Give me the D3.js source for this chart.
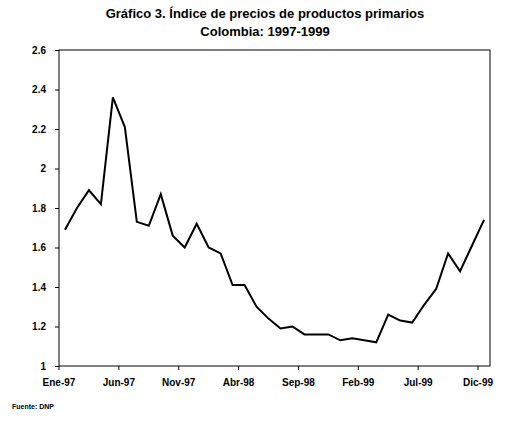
<!DOCTYPE html><html><head><meta charset="utf-8"><script src="https://cdn.jsdelivr.net/npm/d3@7"></script>
<style>body{margin:0;background:#fff}text{font-family:"Liberation Sans",Arial,sans-serif}</style></head><body><svg id="c" width="525" height="431"></svg><script>
const months=["Ene","Feb","Mar","Abr","May","Jun","Jul","Ago","Sep","Oct","Nov","Dic"];
const years=["97","98","99"];
const categories=years.flatMap(y=>months.map(m=>m+"-"+y));
const values=[1.69,1.80,1.89,1.82,2.36,2.21,1.73,1.71,1.87,1.66,1.60,1.72,1.60,1.57,1.41,1.41,1.30,1.24,1.19,1.20,1.16,1.16,1.16,1.13,1.14,1.13,1.12,1.26,1.23,1.22,1.31,1.39,1.57,1.48,1.61,1.74];
const yTicks=[1,1.2,1.4,1.6,1.8,2,2.2,2.4,2.6];
const tickCats=["Ene-97","Jun-97","Nov-97","Abr-98","Sep-98","Feb-99","Jul-99","Dic-99"];
const svg=d3.select("#c");
const L=59,R=490,T=50,B=366;
const x=d3.scaleBand().domain(categories).range([L,R]);
const y=d3.scaleLinear().domain([1,2.6]).range([B,T]);
svg.append("text").attr("x",265).attr("y",18).attr("text-anchor","middle").attr("font-size",13).attr("font-weight","bold").text("Gráfico 3. Índice de precios de productos primarios");
svg.append("text").attr("x",265).attr("y",36).attr("text-anchor","middle").attr("font-size",13).attr("font-weight","bold").text("Colombia: 1997-1999");
svg.append("rect").attr("x",L).attr("y",T).attr("width",R-L).attr("height",B-T).attr("fill","none").attr("stroke","#000").attr("stroke-width",1);
const ya=svg.append("g").attr("transform",`translate(${L},0)`).call(d3.axisLeft(y).tickValues(yTicks).tickSize(4).tickFormat(d3.format("~g")));
ya.select(".domain").remove();
ya.selectAll("text").attr("font-size",10).attr("font-weight","bold").attr("font-family","Liberation Sans, Arial").attr("dx",-6);
const xa=svg.append("g").attr("transform",`translate(0,${B})`);
tickCats.forEach(c=>{const px=x(c);
 xa.append("line").attr("x1",px).attr("x2",px).attr("y1",0).attr("y2",4).attr("stroke","#000");
 xa.append("text").attr("x",px).attr("y",20).attr("text-anchor","middle").attr("font-size",10).attr("font-weight","bold").text(c);});
svg.append("path").datum(values).attr("fill","none").attr("stroke","#000").attr("stroke-width",2)
 .attr("d",d3.line().x((d,i)=>x(categories[i])+x.bandwidth()/2).y(d=>y(d)));
svg.append("text").attr("x",12).attr("y",409).attr("font-size",7).attr("font-weight","bold").text("Fuente:  DNP");
</script></body></html>
